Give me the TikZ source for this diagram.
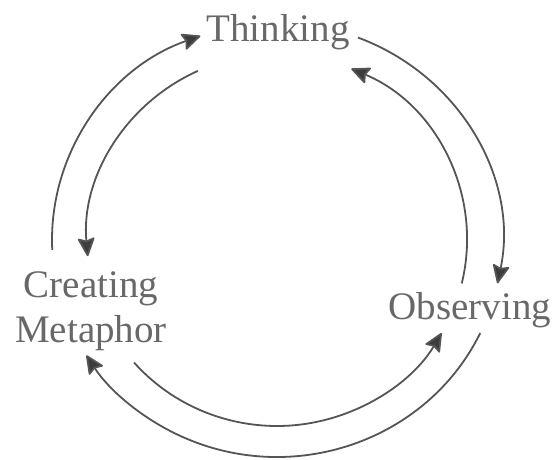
\documentclass[tikz,border=0pt]{standalone}
\usepackage{fontspec}
\setmainfont{Liberation Serif}
\usetikzlibrary{arrows.meta}
\definecolor{linegray}{HTML}{555555}
\definecolor{tipgray}{HTML}{3C3C3C}
\definecolor{textgray}{HTML}{686868}
\begin{document}
\begin{tikzpicture}[x=1pt,y=1pt,
  lbl/.style={text=textgray,font=\fontsize{39}{45}\selectfont,inner sep=0pt},
  cyc/.style={draw=linegray,line width=1.8pt,
    -{Stealth[length=20pt,width=18pt,inset=3pt,fill=tipgray,round]}}]
\useasboundingbox (0,0) rectangle (558,459);
\coordinate (C) at (277,219);
\node[lbl,anchor=base] (think) at (278,417) {Thinking};
\node[lbl,anchor=base] (obs) at (470,140) {Observing};
\node[lbl,align=center,anchor=base] (meta) at (91,117) {Creating\\Metaphor};
% outer arcs
\draw[cyc] (C) ++(182.6:225 and 217) arc[start angle=182.6,end angle=109.9,x radius=225,y radius=217];
\draw[cyc] (C) ++(68.9:225 and 217) arc[start angle=68.9,end angle=-11.5,x radius=225,y radius=217];
\draw[cyc] (C) ++(-25.4:225 and 217) arc[start angle=-25.4,end angle=-147.9,x radius=225,y radius=217];
% inner arcs
\draw[cyc] (C) ++(114.6:190 and 186) arc[start angle=114.6,end angle=185,x radius=190,y radius=186];
\draw[cyc] (C) ++(-13.5:190 and 186) arc[start angle=-13.5,end angle=67,x radius=190,y radius=186];
\draw[cyc] (C) ++(-138.8:190 and 186) arc[start angle=-138.8,end angle=-30,x radius=190,y radius=186];
\end{tikzpicture}
\end{document}
